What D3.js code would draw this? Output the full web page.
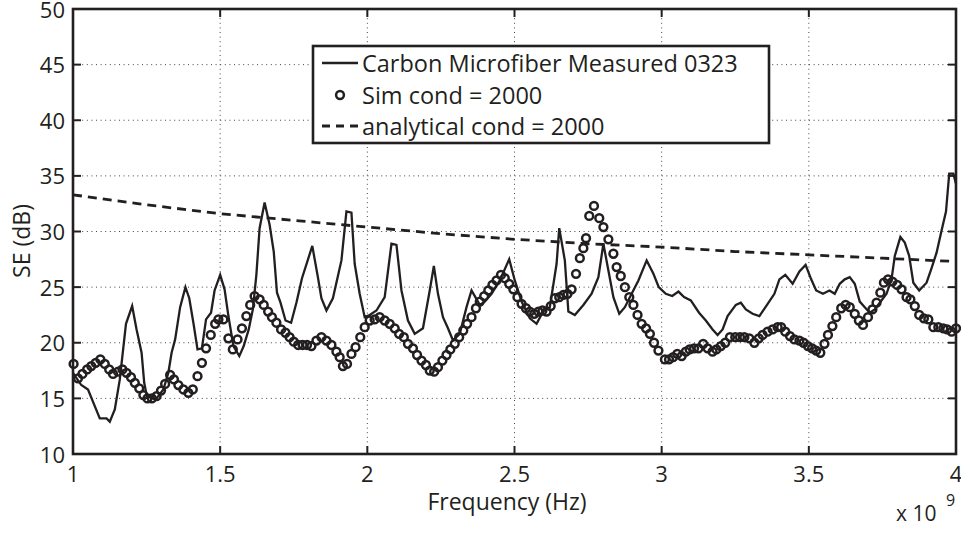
<!DOCTYPE html>
<html>
<head>
<meta charset="utf-8">
<script src="https://cdn.jsdelivr.net/npm/d3@7"></script>
<style>
  body { margin: 0; background: #fff; }
  svg text { font-family: "Open Sans", "DejaVu Sans", sans-serif; fill: #231f20; }
</style>
</head>
<body>
<div id="chart"></div>
<script>
// frequencies in GHz (axis shows x 10^9 Hz)
const xTicks = [1, 1.5, 2, 2.5, 3, 3.5, 4];
const yTicks = [10, 15, 20, 25, 30, 35, 40, 45, 50];

const legendNames = ["Carbon Microfiber Measured 0323", "Sim cond = 2000", "analytical cond = 2000"];

// measured curve [GHz, dB]
const measured = [
  [1.000, 17.3], [1.028, 16.2], [1.051, 15.8], [1.091, 13.2], [1.114, 13.2], [1.125, 12.9],
  [1.142, 14.0], [1.159, 16.7], [1.180, 21.7], [1.201, 23.3], [1.216, 21.2], [1.233, 19.1],
  [1.242, 16.4], [1.250, 15.3], [1.267, 15.0], [1.284, 15.0], [1.307, 15.8], [1.324, 17.3],
  [1.335, 19.1], [1.347, 20.3], [1.364, 23.2], [1.382, 25.0], [1.395, 24.0], [1.409, 21.8],
  [1.423, 19.4], [1.438, 19.5], [1.452, 22.1], [1.469, 22.7], [1.481, 24.7], [1.500, 26.1],
  [1.515, 24.8], [1.528, 22.4], [1.545, 19.7], [1.565, 18.8], [1.580, 19.7], [1.597, 21.2],
  [1.611, 23.0], [1.623, 26.1], [1.634, 30.3], [1.651, 32.6], [1.668, 30.6], [1.682, 28.2],
  [1.693, 24.5], [1.705, 23.6], [1.722, 22.0], [1.741, 21.8], [1.759, 23.6], [1.778, 25.8],
  [1.813, 28.7], [1.832, 25.9], [1.844, 24.0], [1.861, 22.9], [1.883, 24.0], [1.912, 27.4],
  [1.929, 31.8], [1.946, 31.7], [1.957, 27.1], [1.974, 24.4], [1.991, 22.3], [2.008, 22.5],
  [2.031, 22.9], [2.059, 24.1], [2.082, 28.9], [2.099, 28.8], [2.116, 24.7], [2.138, 22.0],
  [2.161, 20.8], [2.189, 21.3], [2.212, 24.7], [2.226, 26.9], [2.240, 24.4], [2.257, 22.3],
  [2.274, 21.3], [2.291, 20.2], [2.314, 20.8], [2.337, 23.2], [2.354, 24.7], [2.382, 23.4],
  [2.399, 23.7], [2.422, 24.4], [2.450, 25.6], [2.482, 27.5], [2.501, 25.6], [2.524, 23.7],
  [2.552, 22.2], [2.575, 21.7], [2.597, 22.8], [2.620, 23.2], [2.643, 27.1], [2.652, 30.3],
  [2.671, 27.4], [2.683, 22.8], [2.705, 22.5], [2.734, 23.4], [2.762, 24.4], [2.785, 25.9],
  [2.802, 28.9], [2.819, 26.5], [2.836, 24.1], [2.856, 22.6], [2.875, 23.2], [2.898, 24.4],
  [2.921, 25.6], [2.949, 27.4], [2.972, 26.2], [2.990, 25.0], [3.014, 24.4], [3.036, 24.2],
  [3.057, 24.6], [3.076, 24.1], [3.099, 23.8], [3.127, 22.7], [3.150, 22.0], [3.173, 21.2],
  [3.190, 20.7], [3.207, 21.2], [3.224, 22.4], [3.252, 23.4], [3.269, 23.6], [3.286, 23.0],
  [3.309, 22.6], [3.332, 22.4], [3.355, 23.3], [3.383, 24.4], [3.400, 25.7], [3.420, 26.1],
  [3.445, 25.3], [3.468, 26.4], [3.489, 27.0], [3.508, 25.7], [3.525, 24.7], [3.548, 24.4],
  [3.570, 24.7], [3.588, 24.4], [3.605, 25.3], [3.622, 25.7], [3.639, 25.9], [3.656, 25.3],
  [3.673, 23.7], [3.690, 23.2], [3.707, 22.7], [3.724, 23.0], [3.741, 23.6], [3.764, 24.4],
  [3.781, 25.7], [3.792, 27.8], [3.811, 29.5], [3.826, 29.0], [3.841, 27.8], [3.855, 25.4],
  [3.875, 24.7], [3.900, 25.4], [3.917, 26.7], [3.934, 28.1], [3.951, 30.1], [3.966, 31.8],
  [3.977, 35.2], [3.991, 35.2], [4.000, 34.3]
];

// simulation markers [GHz, dB]
const sim = [
  [1.002, 18.1], [1.017, 16.8], [1.032, 17.2], [1.048, 17.6], [1.062, 17.9], [1.077, 18.2],
  [1.093, 18.5], [1.108, 18.1], [1.123, 17.6], [1.136, 17.2], [1.153, 17.4], [1.168, 17.6],
  [1.182, 17.3], [1.197, 16.9], [1.210, 16.4], [1.225, 15.9], [1.239, 15.3], [1.253, 15.0],
  [1.268, 15.0], [1.284, 15.2], [1.299, 15.7], [1.313, 16.3], [1.330, 17.1], [1.343, 16.7],
  [1.358, 16.2], [1.375, 15.8], [1.392, 15.5], [1.407, 15.8], [1.423, 17.0], [1.438, 18.2],
  [1.452, 19.5], [1.468, 20.7], [1.483, 21.7], [1.494, 22.1], [1.511, 22.1], [1.528, 20.4],
  [1.543, 19.4], [1.559, 20.3], [1.574, 21.3], [1.589, 22.4], [1.602, 23.4], [1.617, 24.2],
  [1.634, 23.9], [1.648, 23.4], [1.663, 22.8], [1.676, 22.3], [1.691, 21.8], [1.707, 21.2],
  [1.722, 20.9], [1.736, 20.5], [1.750, 20.1], [1.765, 19.8], [1.780, 19.8], [1.795, 19.8],
  [1.810, 19.7], [1.827, 20.2], [1.844, 20.5], [1.861, 20.2], [1.878, 19.8], [1.895, 19.2],
  [1.906, 18.7], [1.917, 17.9], [1.931, 18.1], [1.946, 19.0], [1.960, 19.6], [1.976, 20.5],
  [1.991, 21.4], [2.008, 22.0], [2.025, 22.1], [2.042, 22.3], [2.059, 22.0], [2.076, 21.7],
  [2.093, 21.3], [2.108, 20.8], [2.124, 20.5], [2.138, 19.9], [2.155, 19.5], [2.169, 18.9],
  [2.184, 18.4], [2.199, 18.0], [2.212, 17.5], [2.227, 17.4], [2.240, 17.8], [2.255, 18.4],
  [2.269, 18.9], [2.282, 19.4], [2.297, 19.9], [2.312, 20.5], [2.326, 21.1], [2.339, 21.7],
  [2.354, 22.3], [2.369, 23.1], [2.382, 23.7], [2.397, 24.2], [2.411, 24.7], [2.425, 25.2],
  [2.439, 25.6], [2.454, 26.1], [2.467, 25.8], [2.482, 25.3], [2.496, 24.8], [2.510, 24.1],
  [2.524, 23.5], [2.539, 23.1], [2.552, 22.8], [2.567, 22.6], [2.581, 22.8], [2.595, 22.9],
  [2.609, 22.8], [2.623, 23.3], [2.637, 24.0], [2.652, 24.1], [2.666, 24.3], [2.680, 24.4],
  [2.694, 24.8], [2.709, 26.2], [2.722, 27.6], [2.734, 28.5], [2.743, 29.4], [2.754, 31.4],
  [2.770, 32.3], [2.788, 31.2], [2.802, 30.4], [2.819, 29.3], [2.836, 28.0], [2.847, 26.8],
  [2.861, 26.0], [2.875, 25.0], [2.890, 24.1], [2.904, 23.4], [2.918, 22.5], [2.932, 21.7],
  [2.947, 21.3], [2.960, 20.8], [2.974, 20.0], [2.989, 19.3], [3.011, 18.5], [3.025, 18.5],
  [3.039, 18.7], [3.053, 19.0], [3.068, 18.8], [3.082, 19.2], [3.095, 19.4], [3.110, 19.5],
  [3.125, 19.5], [3.141, 19.9], [3.156, 19.5], [3.173, 19.2], [3.186, 19.4], [3.201, 19.7],
  [3.216, 20.0], [3.232, 20.5], [3.250, 20.5], [3.266, 20.5], [3.281, 20.5], [3.298, 20.4],
  [3.315, 20.0], [3.330, 20.4], [3.343, 20.7], [3.360, 21.0], [3.377, 21.2], [3.394, 21.4],
  [3.406, 21.4], [3.420, 21.0], [3.436, 20.6], [3.451, 20.3], [3.468, 20.2], [3.482, 20.0],
  [3.497, 19.7], [3.511, 19.5], [3.525, 19.3], [3.539, 19.1], [3.553, 19.9], [3.565, 20.7],
  [3.580, 21.5], [3.593, 22.3], [3.610, 23.1], [3.625, 23.4], [3.639, 23.2], [3.656, 22.6],
  [3.670, 22.0], [3.684, 21.6], [3.701, 22.3], [3.716, 23.0], [3.730, 23.6], [3.743, 24.5],
  [3.755, 25.4], [3.769, 25.7], [3.784, 25.5], [3.800, 25.2], [3.815, 24.8], [3.832, 24.1],
  [3.845, 23.9], [3.860, 23.3], [3.875, 22.5], [3.891, 22.2], [3.906, 22.1], [3.923, 21.4],
  [3.940, 21.4], [3.957, 21.3], [3.970, 21.2], [3.985, 21.0], [4.000, 21.3]
];

// analytical curve [GHz, dB]
const analytical = [
  [1.00, 33.3], [1.25, 32.4], [1.50, 31.6], [1.75, 31.0], [2.00, 30.4], [2.25, 29.8],
  [2.50, 29.3], [2.75, 28.9], [3.00, 28.6], [3.25, 28.2], [3.50, 27.9], [3.75, 27.6], [4.00, 27.3]
];

const W = 961, H = 552;
const plot = { left: 73, right: 956, top: 9, bottom: 454 };

const svg = d3.select("#chart").append("svg")
  .attr("width", W)
  .attr("height", H);

const x = d3.scaleLinear().domain([1, 4]).range([plot.left, plot.right]);
const y = d3.scaleLinear().domain([10, 50]).range([plot.bottom, plot.top]);

// dotted grid
svg.append("g").selectAll("line")
  .data(xTicks.slice(1, -1)).enter().append("line")
  .attr("x1", d => x(d)).attr("x2", d => x(d))
  .attr("y1", plot.top).attr("y2", plot.bottom)
  .attr("stroke", "#444").attr("stroke-width", 1).attr("stroke-dasharray", "1,3.6");

svg.append("g").selectAll("line")
  .data(yTicks.slice(1, -1)).enter().append("line")
  .attr("y1", d => y(d)).attr("y2", d => y(d))
  .attr("x1", plot.left).attr("x2", plot.right)
  .attr("stroke", "#444").attr("stroke-width", 1).attr("stroke-dasharray", "1,3.6");

const line = d3.line().x(d => x(d[0])).y(d => y(d[1]));

// analytical dashed
svg.append("path")
  .attr("d", line(analytical))
  .attr("fill", "none")
  .attr("stroke", "#231f20")
  .attr("stroke-width", 2.8)
  .attr("stroke-dasharray", "9,6");

// measured solid
svg.append("path")
  .attr("d", line(measured))
  .attr("fill", "none")
  .attr("stroke", "#231f20")
  .attr("stroke-width", 2.3)
  .attr("stroke-linejoin", "miter");

// simulation circles
svg.append("g").selectAll("circle")
  .data(sim).enter().append("circle")
  .attr("cx", d => x(d[0]))
  .attr("cy", d => y(d[1]))
  .attr("r", 3.9)
  .attr("fill", "none")
  .attr("stroke", "#231f20")
  .attr("stroke-width", 2.5);

// axes: inward ticks on all four sides
const tickLen = 8;
const axisG = svg.append("g").attr("stroke", "#231f20").attr("stroke-width", 2);
xTicks.forEach(t => {
  axisG.append("line").attr("x1", x(t)).attr("x2", x(t)).attr("y1", plot.bottom).attr("y2", plot.bottom - tickLen);
  axisG.append("line").attr("x1", x(t)).attr("x2", x(t)).attr("y1", plot.top).attr("y2", plot.top + tickLen);
});
yTicks.forEach(t => {
  axisG.append("line").attr("y1", y(t)).attr("y2", y(t)).attr("x1", plot.left).attr("x2", plot.left + tickLen);
  axisG.append("line").attr("y1", y(t)).attr("y2", y(t)).attr("x1", plot.right).attr("x2", plot.right - tickLen);
});
axisG.append("rect")
  .attr("x", plot.left).attr("y", plot.top)
  .attr("width", plot.right - plot.left).attr("height", plot.bottom - plot.top)
  .attr("fill", "none").attr("stroke-width", 2.6);

// tick labels
svg.append("g").selectAll("text")
  .data(xTicks).enter().append("text")
  .attr("x", d => x(d))
  .attr("y", 482)
  .attr("text-anchor", "middle")
  .style("font-size", "22px")
  .text(d => d);

svg.append("g").selectAll("text")
  .data(yTicks).enter().append("text")
  .attr("x", 65)
  .attr("y", d => y(d) + 8.5)
  .attr("text-anchor", "end")
  .style("font-size", "22px")
  .text(d => d);

// axis titles
svg.append("text")
  .attr("x", 507).attr("y", 510)
  .attr("text-anchor", "middle")
  .style("font-size", "23px")
  .text("Frequency (Hz)");

svg.append("text")
  .attr("transform", "translate(30,241) rotate(-90)")
  .attr("text-anchor", "middle")
  .style("font-size", "23px")
  .text("SE (dB)");

svg.append("text")
  .attr("x", 896).attr("y", 521)
  .style("font-size", "21px")
  .text("x 10");
svg.append("text")
  .attr("x", 946).attr("y", 506)
  .style("font-size", "16px")
  .text("9");

// legend
const legend = svg.append("g");
legend.append("rect")
  .attr("x", 313).attr("y", 46)
  .attr("width", 456).attr("height", 97)
  .attr("fill", "#fff")
  .attr("stroke", "#231f20")
  .attr("stroke-width", 2.6);

const rowY = [63, 95, 126];
legend.append("line")
  .attr("x1", 322).attr("x2", 358).attr("y1", rowY[0]).attr("y2", rowY[0])
  .attr("stroke", "#231f20").attr("stroke-width", 2.3);
legend.append("circle")
  .attr("cx", 340).attr("cy", rowY[1]).attr("r", 3.9)
  .attr("fill", "none").attr("stroke", "#231f20").attr("stroke-width", 2.5);
legend.append("line")
  .attr("x1", 322).attr("x2", 358).attr("y1", rowY[2]).attr("y2", rowY[2])
  .attr("stroke", "#231f20").attr("stroke-width", 2.8).attr("stroke-dasharray", "8,6");

legend.selectAll("text.lg")
  .data(legendNames).enter().append("text")
  .attr("class", "lg")
  .attr("x", 362)
  .attr("y", (d, i) => rowY[i] + 8.5)
  .style("font-size", "23.5px")
  .text(d => d);
</script>
</body>
</html>
